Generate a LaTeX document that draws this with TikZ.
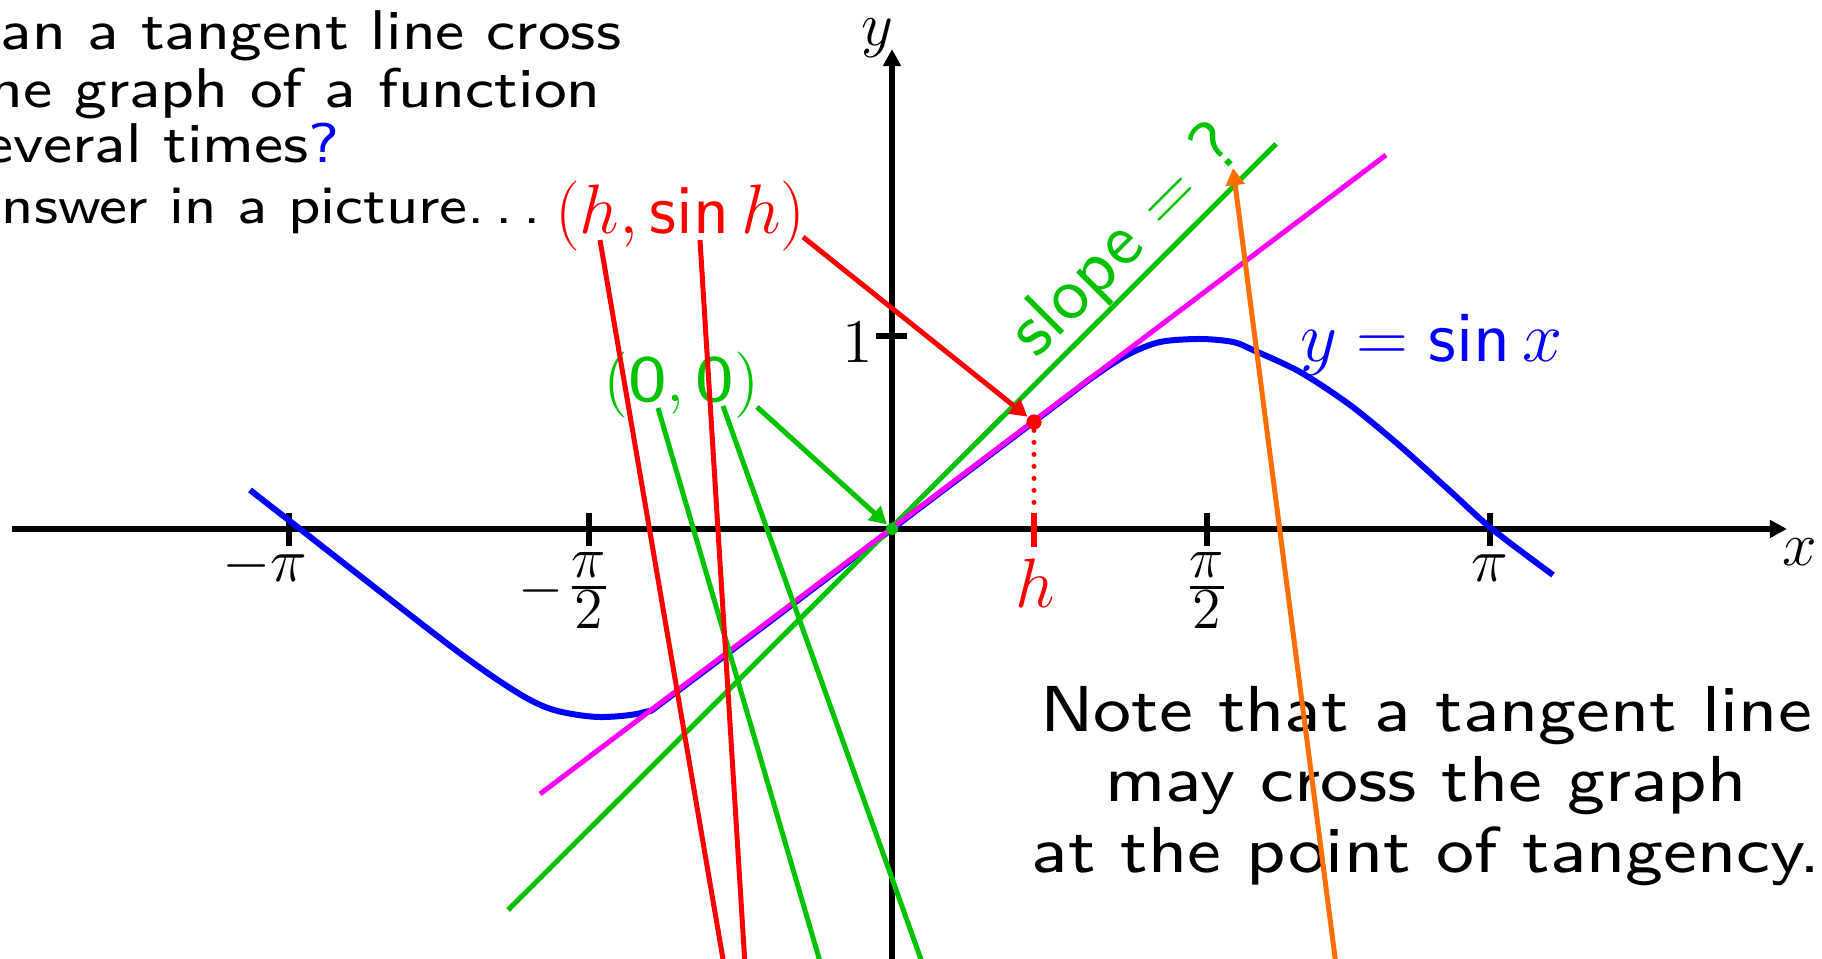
\RequirePackage{fix-cm}
\documentclass[tikz,border=0pt]{standalone}
\usepackage{fontspec}
\usetikzlibrary{arrows.meta}
\newfontfamily\tfont{lmsans8-regular.otf}[FakeStretch=1.1]
\newfontfamily\sfont{lmsans10-regular.otf}
\definecolor{gr}{RGB}{0,195,0}
\definecolor{mg}{RGB}{255,0,255}
\definecolor{og}{RGB}{255,110,0}
\newcommand\ssin{\mathop{\mbox{\sfont sin}}\nolimits}
\newcommand\setfs[1]{\fontsize{#1}{#1}\selectfont}
\newcommand\pifrac{\vbox{\offinterlineskip\halign{\hfil##\hfil\cr$\pi$\cr\noalign{\kern2.1pt\hrule height 0.6pt\kern0.7pt}$2$\cr}}}
\begin{document}
\begin{tikzpicture}[x=0.25pt,y=-0.25pt,
  ax/.style={line width=1.4pt},
  tk/.style={line width=1.5pt},
  cl/.style={line width=1.25pt},
  lbl/.style={inner sep=0pt, outer sep=0pt},
  arr/.style={-{Triangle[length=4.3pt,width=4.6pt]}},
  axarr/.style={-{Triangle[length=4.3pt,width=4.3pt]}},
  qtext/.style={lbl, anchor=base west, font=\tfont\setfs{14}},
  note/.style={lbl, anchor=base, font=\tfont\setfs{16.25}},
  axl/.style={lbl, font=\setfs{15.5}},
  fr/.style={lbl, anchor=center, font=\setfs{14.5}}]
\useasboundingbox (0,0) rectangle (1822,959);
\clip (0,0) rectangle (1822,959);

% axes
\coordinate (xs) at (12,529); \coordinate (xe) at (1787,529);
\coordinate (ys) at (892,965); \coordinate (ye) at (892,49);
\draw[ax,axarr] (xs) -- (xe);
\draw[ax,axarr] (ys) -- (ye);
\foreach \t in {289,589,1207,1490} \draw[tk] (\t,513) -- (\t,546);
\draw[tk] (876,336) -- (907,336);

% axis labels
\node[axl, anchor=center] (lx) at (1800,552) {$x$};
\node[axl, anchor=center] (ly) at (877,38) {$y$};
\node[axl, anchor=east] (l1) at (873,343) {$1$};
\node[axl, anchor=base] (lmpi) at (289,582) {\llap{$-$}$\pi$};
\node[fr] (lmpi2) at (589,591) {\llap{$-$\kern2pt}$\vcenter{\pifrac}$};
\node[fr] (lpi2) at (1207,591) {$\vcenter{\pifrac}$};
\node[axl, anchor=base] (lpi) at (1490,582) {$\pi$};

% curve
\draw[blue, line width=1.5pt] plot[smooth, tension=0.5] coordinates {
 (250,490) (300,529) (453,648) (518,693) (554,710) (599,717) (645,712) (675,693)
 (892,529) (1060,402) (1093,377) (1127,355) (1160,342) (1200,339) (1233,342)
 (1253,350) (1300,372) (1350,405) (1400,446) (1450,491) (1492,529) (1553,575)};

% lines through the origin
\coordinate (g1) at (508,910); \coordinate (g2) at (1276,144);
\draw[cl, gr] (g1) -- (g2);
\coordinate (m1) at (540,794); \coordinate (m2) at (1386,155);
\draw[cl, mg] (m1) -- (m2);
\node[circle, fill=gr, inner sep=0pt, minimum size=3pt] (O) at (892,529) {};

% point h
\node[circle, fill=red, inner sep=0pt, minimum size=3.8pt] (hd) at (1034,422) {};
\coordinate (ht) at (1034,513); \coordinate (hb) at (1034,547);
\draw[red, line width=1.25pt, dash pattern=on 0pt off 3pt, line cap=round] (hd) -- (ht);
\draw[red, tk] (ht) -- (hb);
\node[lbl, red, anchor=center, font=\setfs{17.5}] (lh) at (1035,583) {$h$};

% texts top left
\node[qtext] (q1) at (-41,50) {Can a tangent line cross};
\node[qtext] (q2) at (-55,108) {The graph of a function};
\node[qtext] (q3) at (-41,163) {several times{\color{blue}?}};
\node[qtext, font=\tfont\setfs{13.4}] (q4) at (-40,224) {Answer in a picture.\kern.2em.\kern.2em.};

% labels
\node[lbl, red, anchor=base west, font=\setfs{17.5}] (hl) at (555,234) {$(h,\ssin h)$};
\node[lbl, gr, anchor=base west, font=\setfs{16.5}] (zl) at (603,402) {$(\mbox{\tfont 0},\mbox{\tfont 0})$};
\node[lbl, blue, anchor=base west, font=\setfs{18}] (yl) at (1300,362) {$y=\ssin x$};
\node[lbl, gr, rotate=45, anchor=center, font=\sfont\setfs{18.5}] (sl) at (1127,242) {slope $=$ ?};

% note
\node[note] (n1) at (1426,732) {Note that a tangent line};
\node[note] (n2) at (1426,802) {may cross the graph};
\node[note] (n3) at (1426,873) {at the point of tangency.};

% label lines
\coordinate (r1s) at (600,240); \coordinate (r1e) at (724,965);
\coordinate (r2s) at (700,240); \coordinate (r2e) at (745,965);
\coordinate (c1s) at (658,408); \coordinate (c1e) at (821,965);
\coordinate (c2s) at (723,406); \coordinate (c2e) at (923,965);
\draw[cl, gr] (c1s) -- (c1e);
\draw[cl, gr] (c2s) -- (c2e);
\draw[cl, red] (r1s) -- (r1e);
\draw[cl, red] (r2s) -- (r2e);
\coordinate (ras) at (803,237);
\draw[cl, red, arr] (ras) -- (hd);
\coordinate (gas) at (757,407);
\draw[cl, gr, arr] (gas) -- (O);
\coordinate (ob) at (1336,965); \coordinate (ot) at (1233,168);
\draw[cl, og, arr] (ob) -- (ot);
\end{tikzpicture}
\end{document}
